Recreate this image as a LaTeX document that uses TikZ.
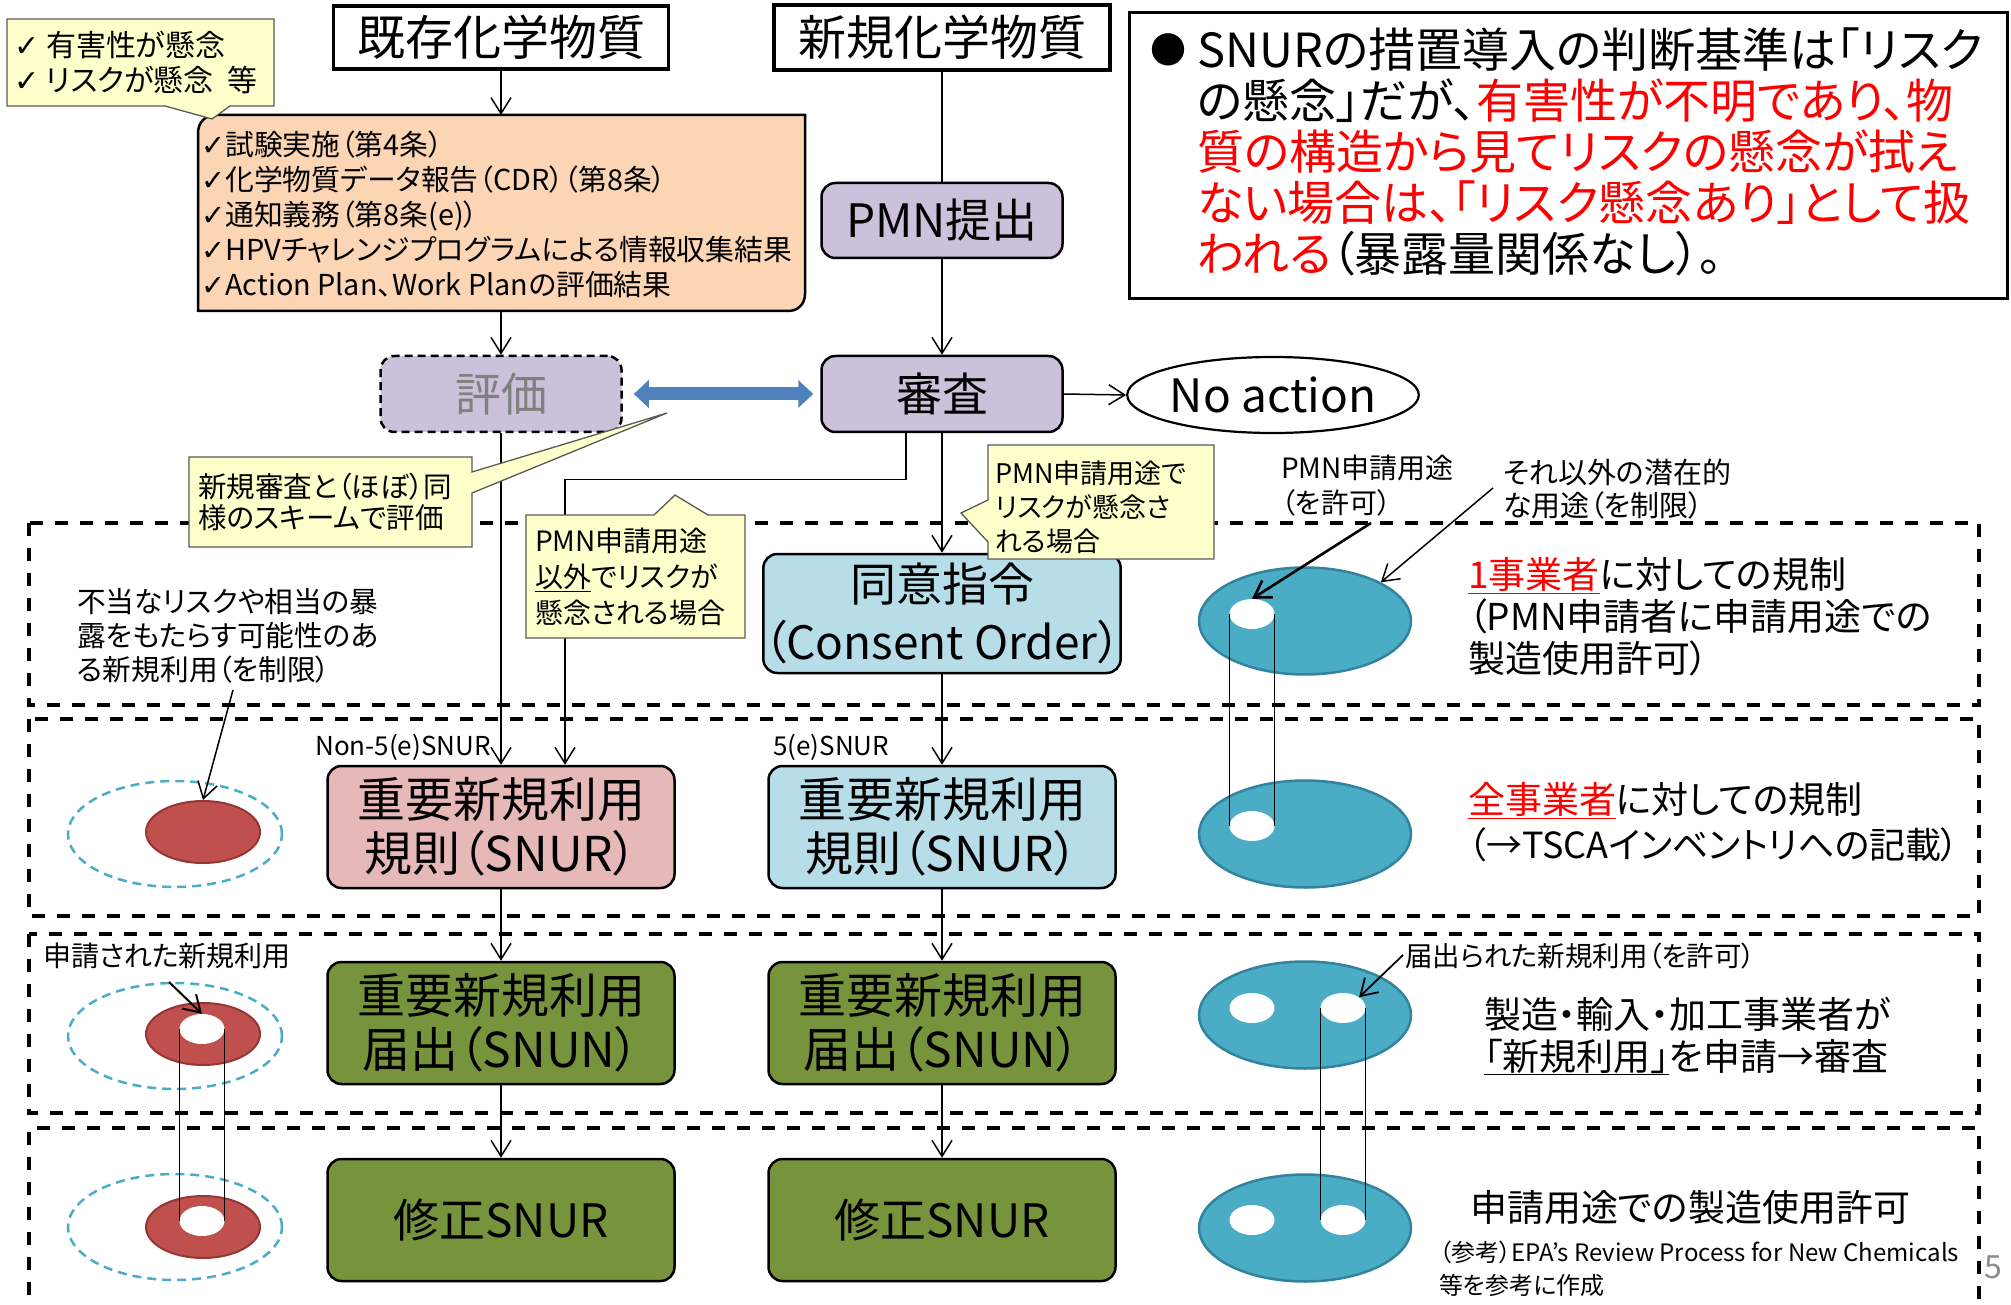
\documentclass[tikz,border=0pt]{standalone}
\usepackage{fontspec}
\usepackage{graphicx}
\setmainfont{Noto Sans CJK JP}[RawFeature=+palt]
\newfontfamily\dejavu{DejaVu Sans}
\usetikzlibrary{arrows.meta,shapes.geometric}
\definecolor{lav}{RGB}{204,193,218}
\definecolor{peach}{RGB}{252,213,181}
\definecolor{cyellow}{RGB}{255,255,204}
\definecolor{lblue}{RGB}{183,222,232}
\definecolor{pinkbox}{RGB}{230,185,184}
\definecolor{olive}{RGB}{119,147,60}
\definecolor{teal1}{RGB}{75,172,198}
\definecolor{teal2}{RGB}{49,132,155}
\definecolor{redell}{RGB}{192,80,77}
\definecolor{redell2}{RGB}{150,54,52}
\definecolor{arrowblue}{RGB}{79,129,189}
\definecolor{pagegray}{RGB}{140,140,140}
\newcommand\fz[2]{\fontsize{#1}{#2}\selectfont}
\newcommand\chk{{\dejavu ✓}}
\begin{document}
\begin{tikzpicture}[x=1pt,y=-1pt,
  arr/.style={line width=1.5pt,-{Straight Barb[length=16pt,width=20pt]}},
  arrthick/.style={line width=2.6pt,-{Straight Barb[length=16pt,width=20pt]}},
  plain/.style={line width=1.5pt},
  rbox/.style={draw,line width=2.5pt,rounded corners=14pt,inner sep=0pt,align=center},
  hbox/.style={draw,line width=3.5pt,fill=white,inner sep=0pt,minimum height=63pt},
  sect/.style={draw,line width=3.5pt,dash pattern=on 13pt off 12pt},
  callout/.style={fill=cyellow,draw=black!65,line width=1.3pt},
  txt/.style={inner sep=0pt,align=left,anchor=west},
  tealell/.style={ellipse,fill=teal1,draw=teal2,line width=2.5pt,minimum width=212pt,minimum height=107pt,inner sep=0pt},
  redel/.style={ellipse,fill=redell,draw=redell2,line width=2pt,minimum width=114pt,minimum height=62pt,inner sep=0pt},
  dell/.style={ellipse,draw=teal1,line width=2.5pt,dash pattern=on 9pt off 6pt,minimum width=214pt,minimum height=106pt,inner sep=0pt},
  spot/.style={ellipse,fill=white,minimum width=45pt,minimum height=30pt,inner sep=0pt},
  vl/.style={line width=1.5pt}
]
\useasboundingbox (0,0) rectangle (2011,1305);

% ---- section frames
\draw[sect] (29,523) rectangle (1979,705);
\draw[sect] (29,719) rectangle (1979,916);
\draw[sect] (29,934) rectangle (1979,1113);
\draw[sect] (29,1320) -- (29,1128) -- (1979,1128) -- (1979,1320);

% ---- header boxes
\node[hbox,minimum width=335pt,font=\fz{48pt}{54pt}] (kizon) at (501,37.5) {既存化学物質};
\node[hbox,minimum width=336pt,minimum height=65pt,font=\fz{48pt}{54pt}] (shinki) at (942,37.5) {新規化学物質};

% ---- orange info box
\filldraw[fill=peach,line width=2.5pt] (198,311) -- (198,133) .. controls (198,123) and (205,115) .. (215,115) -- (805,115) -- (805,294) .. controls (805,304) and (798,311) .. (788,311) -- cycle;
\coordinate (orTop) at (501,115);
\coordinate (orBot) at (501,311);
\node[txt,font=\fz{28.8pt}{35pt}] (ortext) at (201,214) {\chk 試験実施（第4条）\\\chk 化学物質データ報告（CDR）（第8条）\\\chk 通知義務（第8条(e)）\\\chk HPVチャレンジプログラムによる情報収集結果\\\chk Action Plan、Work Planの評価結果};

% ---- note box
\node[draw,line width=3pt,minimum width=878pt,minimum height=286pt,inner sep=0pt] (note) at (1568,156) {};
\node[inner sep=0pt,font=\fz{36pt}{36pt}] (bullet) at (1168,50) {●};
\node[txt,font=\fz{47pt}{51pt}] (notetext) at (1197,152) {SNURの措置導入の判断基準は「リスク\\の懸念」だが、\textcolor{red}{有害性が不明であり、物}\\\textcolor{red}{質の構造から見てリスクの懸念が拭え}\\\textcolor{red}{ない場合は、「リスク懸念あり」として扱}\\\textcolor{red}{われる}（暴露量関係なし）。};

% ---- process boxes
\node[rbox,fill=lav,minimum width=241pt,minimum height=75pt,font=\fz{46pt}{54pt}] (pmn) at (942,220.5) {PMN提出};
\node[rbox,fill=lav,dashed,dash pattern=on 8pt off 5pt,text=black!50,minimum width=241pt,minimum height=76pt,font=\fz{46pt}{54pt}] (hyoka) at (501,394) {評価};
\node[rbox,fill=lav,minimum width=241pt,minimum height=76pt,font=\fz{46pt}{54pt}] (shinsa) at (942,394) {審査};
\node[ellipse,draw,line width=2.2pt,minimum width=290pt,minimum height=76pt,inner sep=0pt,font=\fz{46pt}{54pt}] (noact) at (1273,395) {No action};
\node[rbox,fill=lblue,minimum width=347pt,minimum height=119pt,font=\fz{46pt}{58pt}] (doui) at (942,613.5) {同意指令\\（Consent Order）};
\node[rbox,fill=pinkbox,minimum width=347pt,minimum height=122pt,font=\fz{48pt}{54pt}] (snur1) at (501,827) {重要新規利用\\規則（SNUR）};
\node[rbox,fill=lblue,minimum width=347pt,minimum height=122pt,font=\fz{48pt}{54pt}] (snur2) at (942,827) {重要新規利用\\規則（SNUR）};
\node[rbox,fill=olive,minimum width=347pt,minimum height=122pt,font=\fz{48pt}{54pt}] (snun1) at (501,1023) {重要新規利用\\届出（SNUN）};
\node[rbox,fill=olive,minimum width=347pt,minimum height=122pt,font=\fz{48pt}{54pt}] (snun2) at (942,1023) {重要新規利用\\届出（SNUN）};
\node[rbox,fill=olive,minimum width=347pt,minimum height=122pt,font=\fz{46pt}{54pt}] (shu1) at (501,1220) {修正SNUR};
\node[rbox,fill=olive,minimum width=347pt,minimum height=122pt,font=\fz{46pt}{54pt}] (shu2) at (942,1220) {修正SNUR};

% ---- connectors
\draw[arr] (kizon.south) -- (orTop);
\draw[arr] (orBot) -- (hyoka.north);
\draw[plain] (shinki.south) -- (pmn.north);
\draw[arr] (pmn.south) -- (shinsa.north);
\draw[line width=13pt,arrowblue,{Triangle[length=15pt,width=27pt]}-{Triangle[length=15pt,width=27pt]},shorten <=11pt,shorten >=7pt] (hyoka.east) -- (shinsa.west);
\draw[arr] (shinsa.east) -- (noact.west);
\draw[arr] (shinsa.south) -- (doui.north);
\draw[arr] ([xshift=-36pt]shinsa.south) -- ++(0,46) -| ([xshift=64pt]snur1.north);
\draw[arr] (hyoka.south) -- (snur1.north);
\draw[arr] (doui.south) -- (snur2.north);
\draw[arr] (snur1.south) -- (snun1.north);
\draw[arr] (snur2.south) -- (snun2.north);
\draw[arr] (snun1.south) -- (shu1.north);
\draw[arr] (snun2.south) -- (shu2.north);

\node[txt,font=\fz{26pt}{30pt}] (non5e) at (315,747) {Non-5(e)SNUR};
\node[txt,font=\fz{26pt}{30pt}] (five5e) at (773,747) {5(e)SNUR};

% ---- left ellipses
\node[dell] (d2) at (175,834) {};
\node[redel] (r2) at (203,832) {};
\node[dell] (d3) at (175,1036) {};
\node[redel] (r3) at (203,1034) {};
\node[spot] (r3w) at (202,1029) {};
\node[dell] (d4) at (175,1227) {};
\node[redel] (r4) at (203,1227) {};
\node[spot] (r4w) at (202,1221) {};
\draw[vl] (r3w.west) -- (r4w.west);
\draw[vl] (r3w.east) -- (r4w.east);

\node[txt,font=\fz{28.7pt}{34pt}] (ltext) at (77,636) {不当なリスクや相当の暴\\露をもたらす可能性のあ\\る新規利用（を制限）};
\coordinate (lta) at (233,690);
\draw[arr] (lta) -- (r2.north);
\node[txt,font=\fz{28pt}{30pt}] (shinsei) at (43,956) {申請された新規利用};
\coordinate (sha) at (169,982);
\draw[arrthick,line width=2pt] (sha) -- (r3w.north);

% ---- right ellipses
\node[tealell] (e1) at (1305,621) {};
\node[spot] (w1) at (1252,614) {};
\node[tealell] (e2) at (1305,834) {};
\node[spot] (w2) at (1252,826) {};
\node[tealell] (e3) at (1305,1015) {};
\node[spot] (w3a) at (1252,1008) {};
\node[spot] (w3b) at (1343,1008) {};
\node[tealell] (e4) at (1305,1228) {};
\node[spot] (w4a) at (1252,1220) {};
\node[spot] (w4b) at (1343,1220) {};
\draw[vl] (w1.west) -- (w2.west);
\draw[vl] (w1.east) -- (w2.east);
\draw[vl] (w3b.west) -- (w4b.west);
\draw[vl] (w3b.east) -- (w4b.east);

\node[txt,font=\fz{28pt}{35pt}] (kyoka) at (1281,486) {PMN申請用途\\（を許可）};
\node[txt,font=\fz{29pt}{33pt}] (sonota) at (1503,489) {それ以外の潜在的\\な用途（を制限）};
\coordinate (ka) at (1371,523);
\draw[arrthick] (ka) -- (w1.north);
\coordinate (sa) at (1493,488);
\draw[arr] (sa) -- (e1.north east);
\node[txt,font=\fz{37pt}{42pt}] (r1text) at (1468,617) {\textcolor{red}{\underline{1事業者}}に対しての規制\\（PMN申請者に申請用途での\\製造使用許可）};
\node[txt,font=\fz{37pt}{45pt}] (r2text) at (1468,822) {\textcolor{red}{\underline{全事業者}}に対しての規制\\{\fz{36pt}{45pt}（→TSCAインベントリへの記載）}};
\node[txt,font=\fz{27.5pt}{30pt}] (todoke) at (1405,956) {届出られた新規利用（を許可）};
\coordinate (ta) at (1403,955);
\draw[arr,line width=1.8pt] (ta) -- (w3b.north east);
\node[txt,font=\fz{37pt}{42pt}] (r3text) at (1484,1036) {製造・輸入・加工事業者が\\\underline{「新規利用」}を申請→審査};
\node[txt,font=\fz{37pt}{42pt}] (r4text) at (1470,1207) {申請用途での製造使用許可};
\node[txt,font=\fz{24pt}{33pt}] (ref) at (1439,1269) {（参考）EPA's Review Process for New Chemicals\\等を参考に作成};
\node[inner sep=0pt,text=pagegray,font=\fz{32pt}{32pt}] (page) at (1993,1267) {5};

% ---- callouts
\filldraw[callout] (7,19) -- (274,19) -- (274,106) -- (230,106) -- (212,119) -- (165,106) -- (7,106) -- cycle;
\node[txt,font=\fz{30pt}{35pt}] (c1text) at (14,62.5) {\chk\ 有害性が懸念\\\chk\ リスクが懸念\hspace{14pt}等};
\filldraw[callout] (189,457) -- (472,457) -- (472,472) -- (667,413) -- (472,493) -- (472,547) -- (189,547) -- cycle;
\node[txt,font=\fz{28.5pt}{31pt}] (c2text) at (198,502) {新規審査と（ほぼ）同\\様のスキームで評価};
\filldraw[callout] (526,515) -- (654,515) -- (675,495) -- (708,515) -- (745,515) -- (745,638) -- (526,638) -- cycle;
\node[txt,font=\fz{28pt}{36pt}] (c3text) at (535,577) {PMN申請用途\\\underline{以外}でリスクが\\懸念される場合};
\filldraw[callout] (988,445) -- (1214,445) -- (1214,559) -- (988,559) -- (988,542) -- (961,513) -- (988,500) -- cycle;
\node[txt,font=\fz{27pt}{34pt}] (c4text) at (995,507) {PMN申請用途で\\リスクが懸念さ\\れる場合};
\end{tikzpicture}
\end{document}
